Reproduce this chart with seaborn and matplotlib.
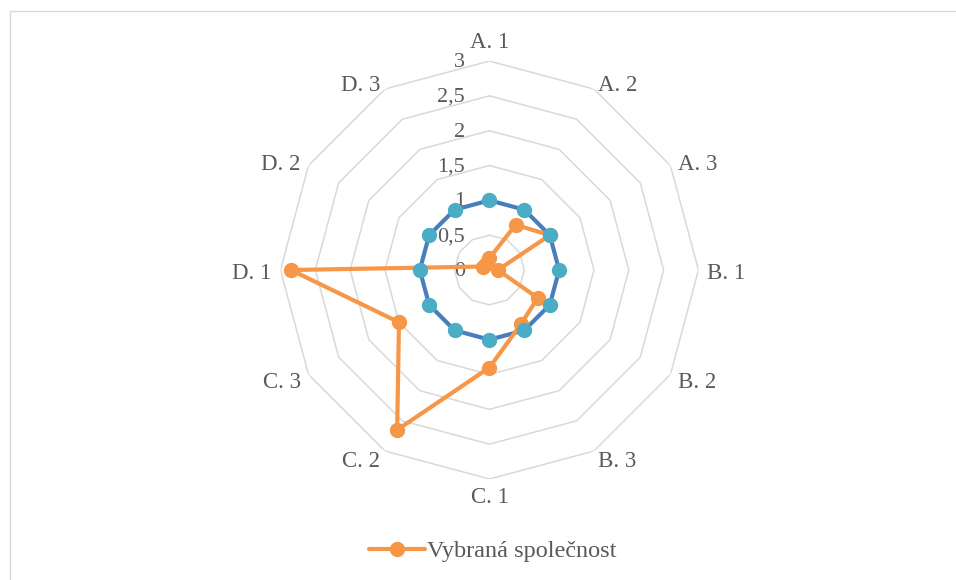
import numpy as np
import pandas as pd
import matplotlib
matplotlib.use("Agg")
import matplotlib.pyplot as plt
from matplotlib.lines import Line2D
import seaborn as sns

# data
categories = ["A. 1", "A. 2", "A. 3", "B. 1", "B. 2", "B. 3",
              "C. 1", "C. 2", "C. 3", "D. 1", "D. 2", "D. 3"]
benchmark = [1, 1, 1, 1, 1, 1, 1, 1, 1, 1, 1, 1]
company = [0.17, 0.75, 1.0, 0.12, 0.8, 0.9, 1.4, 2.65, 1.5, 2.85, 0.1, 0.1]
company_name = "Vybraná společnost"
ring_levels = [0.5, 1, 1.5, 2, 2.5, 3]
tick_labels = ["0", "0,5", "1", "1,5", "2", "2,5", "3"]

sns.set_theme(style="white")
plt.rcParams['font.family'] = ['Liberation Serif', 'DejaVu Serif']
txt_col = "#595959"

n = len(categories)
theta = np.linspace(0, 2 * np.pi, n, endpoint=False)
theta_c = np.append(theta, 2 * np.pi)

df = pd.DataFrame({
    "theta": theta_c,
    "bench": benchmark + benchmark[:1],
    "comp": company + company[:1],
})

fig = plt.figure(figsize=(9.56, 5.8), dpi=100)
ax = fig.add_axes([0.2934, 0.1741, 0.4372, 0.7207], projection="polar")
ax.set_theta_zero_location("N")
ax.set_theta_direction(-1)
ax.set_ylim(0, 3)
ax.grid(False)
ax.spines["polar"].set_visible(False)
ax.set_xticks([])
ax.set_yticks([])
ax.patch.set_alpha(0)

# polygon rings
for r in ring_levels:
    ax.plot(theta_c, [r] * (n + 1), color="#D9D9D9", lw=1.1, zorder=1)

# lines
sns.lineplot(data=df, x="theta", y="bench", sort=False, ax=ax,
             color="#4A7EBB", lw=3, zorder=3, estimator=None)
sns.lineplot(data=df, x="theta", y="comp", sort=False, ax=ax,
             color="#F79646", lw=3, zorder=4, estimator=None)
# markers (drawn above lines)
ax.plot(theta, company, "o", color="#F79646", ms=10, mec="#F79646", zorder=5)
ax.plot(theta, benchmark, "o", color="#4BACC6", ms=10, mec="#4BACC6", zorder=6)
ax.set_xlabel("")
ax.set_ylabel("")

# radial tick labels
for i, lab in enumerate(tick_labels):
    ax.annotate(lab, xy=(0, i * 0.5), xytext=(-17.5, -1), textcoords="offset points",
                ha="right", va="center", fontsize=16, color=txt_col, zorder=2)

# category labels
for t, lab in zip(theta, categories):
    s, c = np.sin(t), np.cos(t)
    ha = "left" if s > 0.1 else ("right" if s < -0.1 else "center")
    if c > 0.95:
        va, dy = "bottom", 6 * c
    elif c < -0.95:
        va, dy = "top", 6 * c
    else:
        va, dy = "center", 6 * c - 2.5
    ax.annotate(lab, xy=(t, 3), xytext=(6.5 * s, dy), textcoords="offset points",
                ha=ha, va=va, fontsize=16.5, color=txt_col, annotation_clip=False)

# legend
handle = Line2D([], [], color="#F79646", lw=3, marker="o", ms=10)
fig.legend([handle], [company_name], loc="center", bbox_to_anchor=(0.5152, 0.05),
           frameon=False, fontsize=17.5, handlelength=2.3, handletextpad=0.1,
           labelcolor=txt_col)

# chart border (left and top edges visible)
fig.add_artist(Line2D([9.5 / 956, 9.5 / 956], [0, 1 - 11 / 580],
                      transform=fig.transFigure, color="#D9D9D9", lw=1))
fig.add_artist(Line2D([9.5 / 956, 1], [1 - 11 / 580, 1 - 11 / 580],
                      transform=fig.transFigure, color="#D9D9D9", lw=1))

fig.savefig("out.png", dpi=100)
